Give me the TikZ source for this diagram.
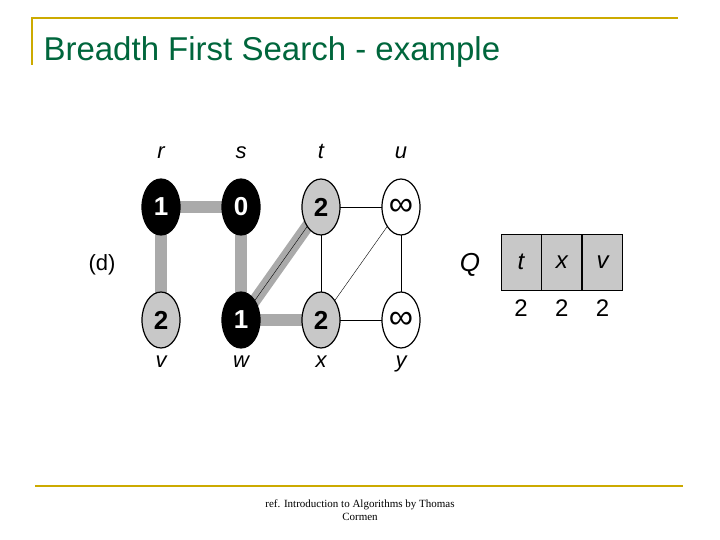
\documentclass[tikz,border=0pt]{standalone}
\usepackage{fontspec}
\setmainfont{Liberation Sans}
\newfontfamily\footfont{Liberation Serif}
\usetikzlibrary{positioning,shapes.geometric,backgrounds}
\definecolor{titlegreen}{RGB}{0,102,60}
\definecolor{gold}{RGB}{204,170,0}
\definecolor{treegray}{RGB}{170,170,170}
\definecolor{visgray}{RGB}{200,200,200}
\begin{document}
\begin{tikzpicture}[
	x=1pt, y=-1pt,
	vert/.style = {ellipse, draw, very thick, minimum width=38pt, minimum height=56pt,
		inner sep=0pt, font=\fontsize{26}{26}\selectfont\bfseries},
	blackv/.style = {vert, fill=black, text=white},
	grayv/.style = {vert, fill=visgray},
	whitev/.style = {vert, fill=white, font=\fontsize{34}{34}\selectfont},
	tree/.style = {line width=12pt, treegray},
	edge/.style = {thin, black},
	vlabel/.style = {font=\fontsize{22}{22}\selectfont\itshape},
	cell/.style = {rectangle, draw, thick, fill=visgray, minimum width=40pt,
		minimum height=56pt, inner sep=0pt, font=\fontsize{24}{24}\selectfont\itshape}
]
	\useasboundingbox (0,0) rectangle (720,540);

	% frame and title
	\draw [gold, line width=2pt] (32,65) -- (32,18) -- (678,18);
	\draw [gold, line width=2pt] (35,486) -- (683,486);
	\node (title) [anchor=west, text=titlegreen, font=\fontsize{33}{33}\selectfont] at (40,52) {Breadth First Search - example};
	\node (ref) [align=center, font=\footfont\fontsize{11}{13}\selectfont] at (360,510) {ref. Introduction to Algorithms by Thomas\\Cormen};

	% vertices
	\node (r) [blackv] at (161,207) {1};
	\node (s) [blackv] at (241,207) {0};
	\node (t) [grayv] at (321,207) {2};
	\node (u) [whitev] at (401,207) {∞};
	\node (v) [grayv] at (161,320) {2};
	\node (w) [blackv] at (241,320) {1};
	\node (x) [grayv] at (321,320) {2};
	\node (y) [whitev] at (401,320) {∞};

	% edges
	\begin{scope}[on background layer]
		\foreach \a/\b in {r/s, r/v, s/w, w/t, w/x}
			\draw [tree] (\a.center) -- (\b.center);
		\foreach \a/\b in {t/u, t/x, u/x, u/y, x/y, w/t}
			\draw [edge] (\a.center) -- (\b.center);
	\end{scope}

	% labels
	\foreach \n in {r,s,t,u}
		\node [vlabel, above=16pt of \n] {\n};
	\foreach \n in {v,w,x,y}
		\node [vlabel, below=4pt of \n] {\n};
	\node (d) [font=\fontsize{22}{22}\selectfont] at (102,265) {(d)};
	\node (Q) [font=\fontsize{26}{26}\selectfont\itshape] at (470,265) {Q};

	% queue
	\node (q1) [cell] at (521,262) {t};
	\node (q2) [cell, right=0pt of q1] {x};
	\node (q3) [cell, right=0pt of q2] {v};
	\foreach \q in {q1,q2,q3}
		\node [below=6pt of \q, font=\fontsize{24}{24}\selectfont] {2};
\end{tikzpicture}
\end{document}
